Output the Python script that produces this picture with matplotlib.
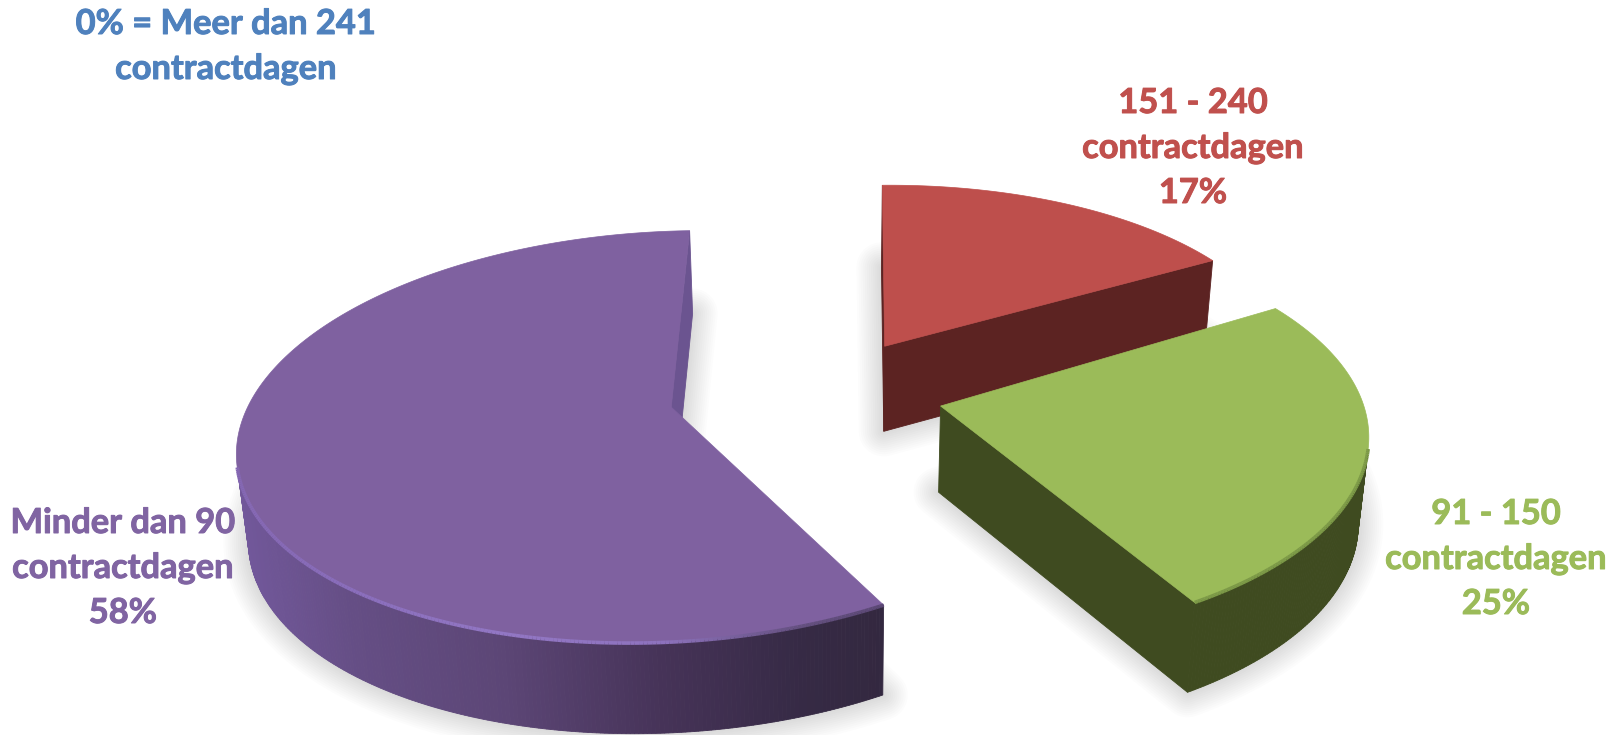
import numpy as np
from matplotlib import patheffects
from matplotlib import pyplot as plt
from matplotlib.collections import LineCollection
from matplotlib.colors import to_rgb

# aandeel per klasse contractdagen, met de klok mee vanaf het noorden
categories = ["Meer dan 241", "151 - 240", "91 - 150", "Minder dan 90"]
shares = [0, 17, 25, 58]

top_colors = ["#4F81BD", "#BE4F4C", "#9BBB59", "#7F61A0"]
text_colors = ["#4F81BD", "#C0504D", "#9BBB59", "#8064A2"]
wall_colors = ["#2A4365", "#5C2322", "#3F4B20", "#6B5490"]

# verloop van de buitenrand van de paarse schijf, van links naar rechts
purple_x = [235, 350, 500, 660, 800, 890]
purple_wall = ["#72589B", "#654E85", "#5C4676", "#463358", "#362A45", "#33283F"]
purple_rim = ["#8568B3", "#8A6EBC", "#9277C4", "#8E73BE", "#64507F", "#5A4774"]

# camera
VANISH_X = 919.0
HORIZON_Y = -996.0
SCALE_X = 412.0
SCALE_Y = 1392.0
DEPTH = 0.14
ROTATION = -1.5
EXPLODE_X = 0.34
EXPLODE_Y = 0.28
OFFSET_X = -0.272
OFFSET_Y = 0.02

# per taartpunt: straal, extra draaiing en kleine verschuiving op het scherm
radius = {1: 1.01, 2: 1.02, 3: 1.02}
turn = {1: 0.3, 2: -1.0, 3: -0.5}
nudge = {1: 8, 2: -2, 3: 1}


def project(x, y):
    w = 1 + DEPTH * y
    return VANISH_X + SCALE_X * x / w, HORIZON_Y + SCALE_Y / w


def drop(px, py):
    # onderkant van de schijf onder een punt op het bovenvlak
    height = 83 + 7 * (py - 236) / (610 - 236)
    return px + (840 - px) * 0.02, py + height


def sector(i, start, end):
    mid = np.radians((start + end) / 2 + ROTATION)
    cx = OFFSET_X + EXPLODE_X * np.sin(mid)
    cy = OFFSET_Y + EXPLODE_Y * np.cos(mid)
    n = max(int(end - start) * 2, 2)
    theta = np.radians(np.linspace(start, end, n) + ROTATION + turn[i])
    px, py = project(cx + radius[i] * np.sin(theta), cy + radius[i] * np.cos(theta))
    ax_, ay_ = project(cx, cy)
    return (ax_ + nudge[i], ay_), px + nudge[i], py


def faces_viewer(p0, p1):
    bx0, by0 = drop(*p0)
    bx1, by1 = drop(*p1)
    xs = np.array([p0[0], p1[0], bx1, bx0])
    ys = np.array([p0[1], p1[1], by1, by0])
    return np.sum(xs * np.roll(ys, -1) - np.roll(xs, -1) * ys) < 0


def wall_quad(ax, p0, p1, color, zorder):
    bx0, by0 = drop(*p0)
    bx1, by1 = drop(*p1)
    ax.fill([p0[0], p1[0], bx1, bx0], [p0[1], p1[1], by1, by0],
            facecolor=color, edgecolor=color, linewidth=0.6, zorder=zorder)


def gradient(x, stops):
    rgb = np.array([to_rgb(c) for c in stops])
    return [np.interp(x, purple_x, rgb[:, i]) for i in range(3)]


def draw_shadow(ax, apex, px, py):
    bx, by = drop(np.r_[apex[0], px], np.r_[apex[1], py])
    for lw in range(36, 0, -3):
        ax.fill(bx, by, facecolor="none", edgecolor="#808080", alpha=0.022,
                linewidth=lw, joinstyle="round", zorder=1)
    ax.fill(bx, by, facecolor="#b0b0b0", edgecolor="none", zorder=1)


def draw_slice(ax, i, apex, px, py, zorder):
    # zijkanten eerst, het bovenvlak er overheen
    points = [apex] + list(zip(px, py)) + [apex]
    for p0, p1 in zip(points[:-1], points[1:]):
        if not faces_viewer(p0, p1):
            continue
        is_cut = p0 == apex or p1 == apex
        if i == 3 and not is_cut:
            color = gradient((p0[0] + p1[0]) / 2, purple_wall)
        else:
            color = wall_colors[i]
        wall_quad(ax, p0, p1, color, zorder)

    ax.fill(np.r_[apex[0], px], np.r_[apex[1], py], facecolor=top_colors[i],
            edgecolor=top_colors[i], linewidth=0.5, zorder=zorder + 0.1)

    # afgeronde bovenrand aan de voorkant
    segs, colors = [], []
    arc = list(zip(px, py))
    for p0, p1 in zip(arc[:-1], arc[1:]):
        if faces_viewer(p0, p1) and p0[1] > 430:
            segs.append([p0, p1])
            if i == 3:
                colors.append(gradient((p0[0] + p1[0]) / 2, purple_rim))
            else:
                colors.append("#7C9947" if i == 2 else wall_colors[i])
    if segs:
        ax.add_collection(LineCollection(segs, colors=colors, linewidths=2.6,
                                         capstyle="butt", zorder=zorder + 0.2))


def main():
    fig = plt.figure(figsize=(16.18, 7.35), dpi=100)
    ax = fig.add_axes([0, 0, 1, 1])
    ax.set_xlim(0, 1618)
    ax.set_ylim(735, 0)
    ax.axis("off")

    edges = np.cumsum([0] + shares) * 3.6
    slices = {}
    for i in range(1, len(shares)):
        slices[i] = sector(i, edges[i], edges[i + 1])
        draw_shadow(ax, *slices[i])

    # volgorde van achter naar voor
    for z, i in enumerate([1, 3, 2]):
        draw_slice(ax, i, *slices[i], zorder=2 + z)

    font = dict(family=["Lato", "DejaVu Sans"], fontweight="bold", fontsize=24.8,
                ha="center", va="center", linespacing=1.5, zorder=10)
    labels = [
        (226, 46.5, f"{shares[0]}% = {categories[0]}\ncontractdagen"),
        (1193, 148, f"{categories[1]}\ncontractdagen\n{shares[1]}%"),
        (1496, 559, f"{categories[2]}\ncontractdagen\n{shares[2]}%"),
        (123, 568, f"{categories[3]}\ncontractdagen\n{shares[3]}%"),
    ]
    for (x, y, label), color in zip(labels, text_colors):
        text = ax.text(x, y, label, color=color, **font)
        # Lato Bold is wat dunner, iets aanzetten
        text.set_path_effects([patheffects.withStroke(linewidth=0.7, foreground=color)])

    fig.savefig("out.png", dpi=100)
    plt.close(fig)


if __name__ == "__main__":
    main()
